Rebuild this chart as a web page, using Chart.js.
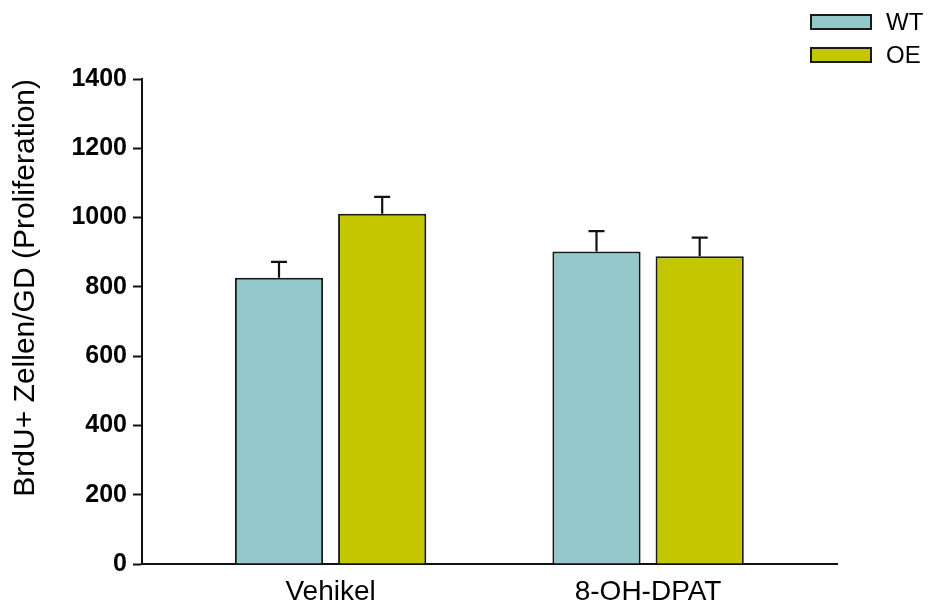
<!DOCTYPE html>
<html>
<head>
<meta charset="utf-8">
<script src="https://cdn.jsdelivr.net/npm/chart.js@4.4.1/dist/chart.umd.min.js"></script>
<style>
  html, body { margin: 0; padding: 0; background: #fff; }
  #wrap { width: 931px; height: 611px; position: relative; }
</style>
</head>
<body>
<div id="wrap"><canvas id="proliferation"></canvas></div>
<script>
// data
const categories = ['Vehikel', '8-OH-DPAT'];
const categoryPos = [0, 1];
const wtValues = [826, 902];
const wtErrors = [46, 59];
const oeValues = [1011, 888];
const oeErrors = [49, 54];
const yTicks = [0, 200, 400, 600, 800, 1000, 1200, 1400];

const seriesNames = ['WT', 'OE'];
const seriesColors = ['#94c8ca', '#c4c700'];

function toPoints(values) {
  return values.map((v, i) => ({ x: categoryPos[i], y: v }));
}

// upper error bars with caps
const errorBars = {
  id: 'errorBars',
  afterDatasetsDraw(chart) {
    const ctx = chart.ctx;
    const yScale = chart.scales.y;
    ctx.save();
    ctx.strokeStyle = '#111';
    ctx.lineWidth = 2.2;
    chart.data.datasets.forEach((ds, di) => {
      const meta = chart.getDatasetMeta(di);
      meta.data.forEach((bar, i) => {
        const top = yScale.getPixelForValue(ds.data[i].y + ds.errors[i]);
        ctx.beginPath();
        ctx.moveTo(bar.x, bar.y);
        ctx.lineTo(bar.x, top);
        ctx.moveTo(bar.x - 8, top);
        ctx.lineTo(bar.x + 8, top);
        ctx.stroke();
      });
    });
    ctx.restore();
  }
};

// legend stacked in the top right corner
const cornerLegend = {
  id: 'cornerLegend',
  afterDraw(chart) {
    const ctx = chart.ctx;
    ctx.save();
    ctx.font = '24px "Liberation Sans", Arial, sans-serif';
    ctx.textBaseline = 'middle';
    chart.data.datasets.forEach((ds, i) => {
      const y = 15 + i * 33;
      ctx.fillStyle = ds.backgroundColor;
      ctx.fillRect(811, y, 60, 14);
      ctx.strokeStyle = '#1a1a1a';
      ctx.lineWidth = 2;
      ctx.strokeRect(811, y, 60, 14);
      ctx.fillStyle = '#000';
      ctx.fillText(ds.label, 886, y + 8);
    });
    ctx.restore();
  }
};

const ctx = document.getElementById('proliferation').getContext('2d');
new Chart(ctx, {
  type: 'bar',
  data: {
    datasets: [
      {
        label: seriesNames[0],
        data: toPoints(wtValues),
        errors: wtErrors,
        backgroundColor: seriesColors[0],
        borderColor: '#1a1a1a',
        borderWidth: 2,
        categoryPercentage: 0.65,
        barPercentage: 0.855
      },
      {
        label: seriesNames[1],
        data: toPoints(oeValues),
        errors: oeErrors,
        backgroundColor: seriesColors[1],
        borderColor: '#1a1a1a',
        borderWidth: 2,
        categoryPercentage: 0.65,
        barPercentage: 0.855
      }
    ]
  },
  options: {
    responsive: true,
    maintainAspectRatio: false,
    animation: false,
    layout: { padding: { left: 0, right: 94, top: 79, bottom: 0 } },
    plugins: {
      legend: { display: false },
      tooltip: { enabled: false }
    },
    scales: {
      x: {
        type: 'linear',
        offset: false,
        min: -0.594,
        max: 1.595,
        afterBuildTicks(scale) {
          scale.ticks = categoryPos.map(v => ({ value: v }));
        },
        afterFit(scale) { scale.height = 47; },
        ticks: {
          autoSkip: false,
          maxRotation: 0,
          padding: 11,
          color: '#000',
          font: { family: '"Liberation Sans", Arial, sans-serif', size: 28 },
          callback: (v, i) => categories[i]
        },
        grid: { drawOnChartArea: false, drawTicks: false, offset: false },
        border: { display: true, color: '#111', width: 2 }
      },
      y: {
        min: 0,
        max: 1400,
        afterBuildTicks(scale) {
          scale.ticks = yTicks.map(v => ({ value: v }));
        },
        afterFit(scale) { scale.width = 142; },
        ticks: {
          padding: 6,
          color: '#000',
          font: { family: '"Liberation Sans", Arial, sans-serif', size: 25, weight: 'bold' },
          callback: v => String(v)
        },
        grid: { drawOnChartArea: false, tickLength: 9, color: '#111', tickWidth: 2 },
        border: { display: true, color: '#111', width: 2 },
        title: {
          display: true,
          text: 'BrdU+ Zellen/GD (Proliferation)',
          align: 'end',
          color: '#000',
          padding: { top: 8, bottom: 0 },
          font: { family: '"Liberation Sans", Arial, sans-serif', size: 30 }
        }
      }
    }
  },
  plugins: [errorBars, cornerLegend]
});
</script>
</body>
</html>
